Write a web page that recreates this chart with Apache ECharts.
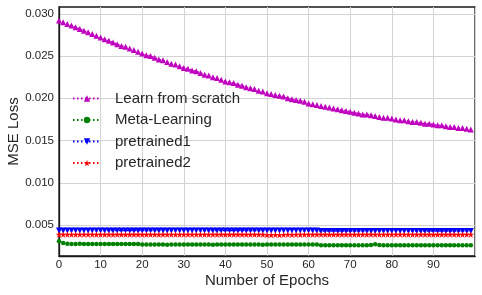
<!DOCTYPE html>
<html>
<head>
<meta charset="utf-8">
<script src="https://cdn.jsdelivr.net/npm/echarts@6/dist/echarts.min.js"></script>
<style>html,body{margin:0;padding:0;background:#fff}#c{width:482px;height:295px}</style>
</head>
<body>
<div id="c"></div>
<script>
const seriesNames = ['Learn from scratch', 'Meta-Learning', 'pretrained1', 'pretrained2'];
const yTicks = [0.005, 0.010, 0.015, 0.020, 0.025, 0.030];
const xTicks = [0, 10, 20, 30, 40, 50, 60, 70, 80, 90];

const scratch = [
  0.0292, 0.0290, 0.0288, 0.0286, 0.0284, 0.0282, 0.0280, 0.0278, 0.0276, 0.0274,
  0.0272, 0.0270, 0.0268, 0.0266, 0.0264, 0.0262, 0.0261, 0.0259, 0.0257, 0.0255,
  0.0253, 0.0251, 0.0250, 0.0248, 0.0246, 0.0245, 0.0243, 0.0241, 0.0240, 0.0238,
  0.0236, 0.0235, 0.0233, 0.0232, 0.0230, 0.0228, 0.0227, 0.0225, 0.0224, 0.0222,
  0.0220, 0.0219, 0.0218, 0.0216, 0.0215, 0.0213, 0.0212, 0.0211, 0.0209, 0.0208,
  0.0206, 0.0205, 0.0204, 0.0203, 0.0202, 0.0200, 0.0199, 0.0198, 0.0197, 0.0196,
  0.0194, 0.0193, 0.0192, 0.0191, 0.0190, 0.0189, 0.0188, 0.0187, 0.0186, 0.0185,
  0.0184, 0.0183, 0.0182, 0.0181, 0.0181, 0.0180, 0.0179, 0.0178, 0.0177, 0.0177,
  0.0176, 0.0175, 0.0174, 0.0174, 0.0173, 0.0172, 0.0172, 0.0171, 0.0170, 0.0170,
  0.0169, 0.0168, 0.0168, 0.0167, 0.0166, 0.0166, 0.0165, 0.0165, 0.0164, 0.0163
];
const meta = [
  0.00310, 0.00290, 0.00280, 0.00278, 0.00278, 0.00279, 0.00278, 0.00278, 0.00277, 0.00278,
  0.00278, 0.00278, 0.00277, 0.00278, 0.00278, 0.00278, 0.00277, 0.00278, 0.00278, 0.00277,
  0.00270, 0.00270, 0.00271, 0.00270, 0.00270, 0.00270, 0.00269, 0.00270, 0.00270, 0.00270,
  0.00270, 0.00271, 0.00270, 0.00270, 0.00270, 0.00270, 0.00270, 0.00269, 0.00270, 0.00270,
  0.00270, 0.00270, 0.00270, 0.00271, 0.00270, 0.00270, 0.00270, 0.00270, 0.00270, 0.00269,
  0.00270, 0.00270, 0.00270, 0.00270, 0.00271, 0.00270, 0.00270, 0.00270, 0.00270, 0.00270,
  0.00271, 0.00270, 0.00270, 0.00262, 0.00262, 0.00262, 0.00263, 0.00262, 0.00262, 0.00262,
  0.00262, 0.00262, 0.00262, 0.00263, 0.00263, 0.00266, 0.00274, 0.00264, 0.00262, 0.00262,
  0.00262, 0.00262, 0.00262, 0.00262, 0.00263, 0.00262, 0.00262, 0.00262, 0.00262, 0.00262,
  0.00262, 0.00263, 0.00262, 0.00262, 0.00262, 0.00262, 0.00262, 0.00262, 0.00262, 0.00262
];
const pre1 = [
  0.00437, 0.00437, 0.00437, 0.00437, 0.00437, 0.00437, 0.00437, 0.00437, 0.00437, 0.00437,
  0.00437, 0.00437, 0.00437, 0.00437, 0.00437, 0.00437, 0.00437, 0.00437, 0.00437, 0.00437,
  0.00437, 0.00437, 0.00437, 0.00437, 0.00437, 0.00437, 0.00437, 0.00437, 0.00437, 0.00437,
  0.00437, 0.00437, 0.00437, 0.00437, 0.00437, 0.00437, 0.00437, 0.00437, 0.00437, 0.00437,
  0.00437, 0.00437, 0.00437, 0.00437, 0.00437, 0.00437, 0.00437, 0.00437, 0.00437, 0.00437,
  0.00437, 0.00437, 0.00437, 0.00437, 0.00437, 0.00437, 0.00437, 0.00437, 0.00437, 0.00437,
  0.00437, 0.00437, 0.00437, 0.00430, 0.00430, 0.00430, 0.00430, 0.00430, 0.00430, 0.00430,
  0.00430, 0.00430, 0.00430, 0.00430, 0.00430, 0.00430, 0.00430, 0.00430, 0.00430, 0.00430,
  0.00430, 0.00430, 0.00430, 0.00430, 0.00430, 0.00430, 0.00430, 0.00430, 0.00430, 0.00430,
  0.00430, 0.00430, 0.00430, 0.00430, 0.00430, 0.00430, 0.00430, 0.00430, 0.00430, 0.00430
];
const pre2 = [
  0.00388, 0.00388, 0.00388, 0.00388, 0.00388, 0.00388, 0.00388, 0.00388, 0.00388, 0.00388,
  0.00388, 0.00388, 0.00388, 0.00388, 0.00388, 0.00388, 0.00388, 0.00388, 0.00388, 0.00388,
  0.00388, 0.00388, 0.00388, 0.00388, 0.00388, 0.00388, 0.00388, 0.00388, 0.00388, 0.00388,
  0.00388, 0.00388, 0.00388, 0.00388, 0.00388, 0.00388, 0.00388, 0.00388, 0.00388, 0.00388,
  0.00388, 0.00388, 0.00388, 0.00388, 0.00388, 0.00388, 0.00388, 0.00388, 0.00388, 0.00388,
  0.00384, 0.00383, 0.00386, 0.00383, 0.00385, 0.00389, 0.00386, 0.00388, 0.00387, 0.00389,
  0.00388, 0.00388, 0.00389, 0.00388, 0.00388, 0.00388, 0.00388, 0.00388, 0.00388, 0.00388,
  0.00388, 0.00388, 0.00388, 0.00388, 0.00388, 0.00388, 0.00388, 0.00388, 0.00388, 0.00388,
  0.00388, 0.00388, 0.00388, 0.00388, 0.00388, 0.00388, 0.00388, 0.00388, 0.00388, 0.00388,
  0.00388, 0.00388, 0.00388, 0.00388, 0.00388, 0.00388, 0.00388, 0.00388, 0.00388, 0.00388
];

const colors = ['#bf00bf', '#008000', '#0000ff', '#ff0000'];
const starPath = 'path://M50,0 L61.8,35.5 L100,35.5 L69.1,57.4 L80.9,95 L50,72.6 L19.1,95 L30.9,57.4 L0,35.5 L38.2,35.5 Z';
const symbols = ['triangle', 'circle', 'triangle', starPath];
const rotates = [0, 0, 180, 0];
const sizes = [6, 4.5, 6, 6.5];
const allData = [scratch, meta, pre1, pre2];
const FONT = '"Liberation Sans", Arial, sans-serif';
const txt = '#262626';

const series = allData.map((arr, k) => ({
  name: seriesNames[k],
  type: 'line',
  data: arr.map((v, i) => [i, v]),
  symbol: symbols[k],
  symbolRotate: rotates[k],
  symbolSize: sizes[k],
  showAllSymbol: true,
  animation: false,
  z: 2 + k,
  lineStyle: { color: colors[k], width: 1.5, type: [1.5, 2.5] },
  itemStyle: { color: colors[k], borderWidth: 0 },
  emphasis: { disabled: true }
}));

const chart = echarts.init(document.getElementById('c'), null, { renderer: 'canvas' });
chart.setOption({
  animation: false,
  backgroundColor: '#fff',
  grid: {
    left: 59, right: 7, top: 7, bottom: 39,
    containLabel: false, outerBoundsMode: 'none',
    show: true, borderColor: '#1a1a1a', borderWidth: 1.3, backgroundColor: 'transparent'
  },
  legend: {
    left: 67, top: 86, orient: 'vertical',
    itemWidth: 28, itemHeight: 8, itemGap: 6.5,
    data: seriesNames,
    textStyle: { fontFamily: FONT, fontSize: 15, color: txt, padding: [0, 0, 0, 9] }
  },
  xAxis: {
    type: 'value', min: 0, max: 100, interval: 10,
    name: 'Number of Epochs', nameLocation: 'middle', nameGap: 17, nameMoveOverlap: false,
    nameTextStyle: { fontFamily: FONT, fontSize: 15, color: txt },
    axisLine: { show: true, lineStyle: { color: '#1a1a1a', width: 1.3 } },
    axisTick: { show: false },
    axisLabel: {
      fontFamily: FONT, fontSize: 11.5, color: txt, margin: 3,
      customValues: xTicks,
      formatter: v => String(v)
    },
    splitLine: { show: true, lineStyle: { color: '#d3d3d3', width: 1 } }
  },
  yAxis: {
    type: 'value', min: 0.00135, max: 0.0308,
    name: 'MSE Loss', nameLocation: 'middle', nameGap: 38, nameMoveOverlap: false,
    nameTextStyle: { fontFamily: FONT, fontSize: 15, color: txt },
    axisLine: { show: true, lineStyle: { color: '#1a1a1a', width: 1.3 } },
    axisTick: { show: false, customValues: yTicks },
    axisLabel: {
      fontFamily: FONT, fontSize: 11.5, color: txt, margin: 5,
      customValues: yTicks,
      formatter: v => v.toFixed(3)
    },
    splitLine: { show: true, lineStyle: { color: '#d3d3d3', width: 1 } }
  },
  series: series
});
</script>
</body>
</html>
